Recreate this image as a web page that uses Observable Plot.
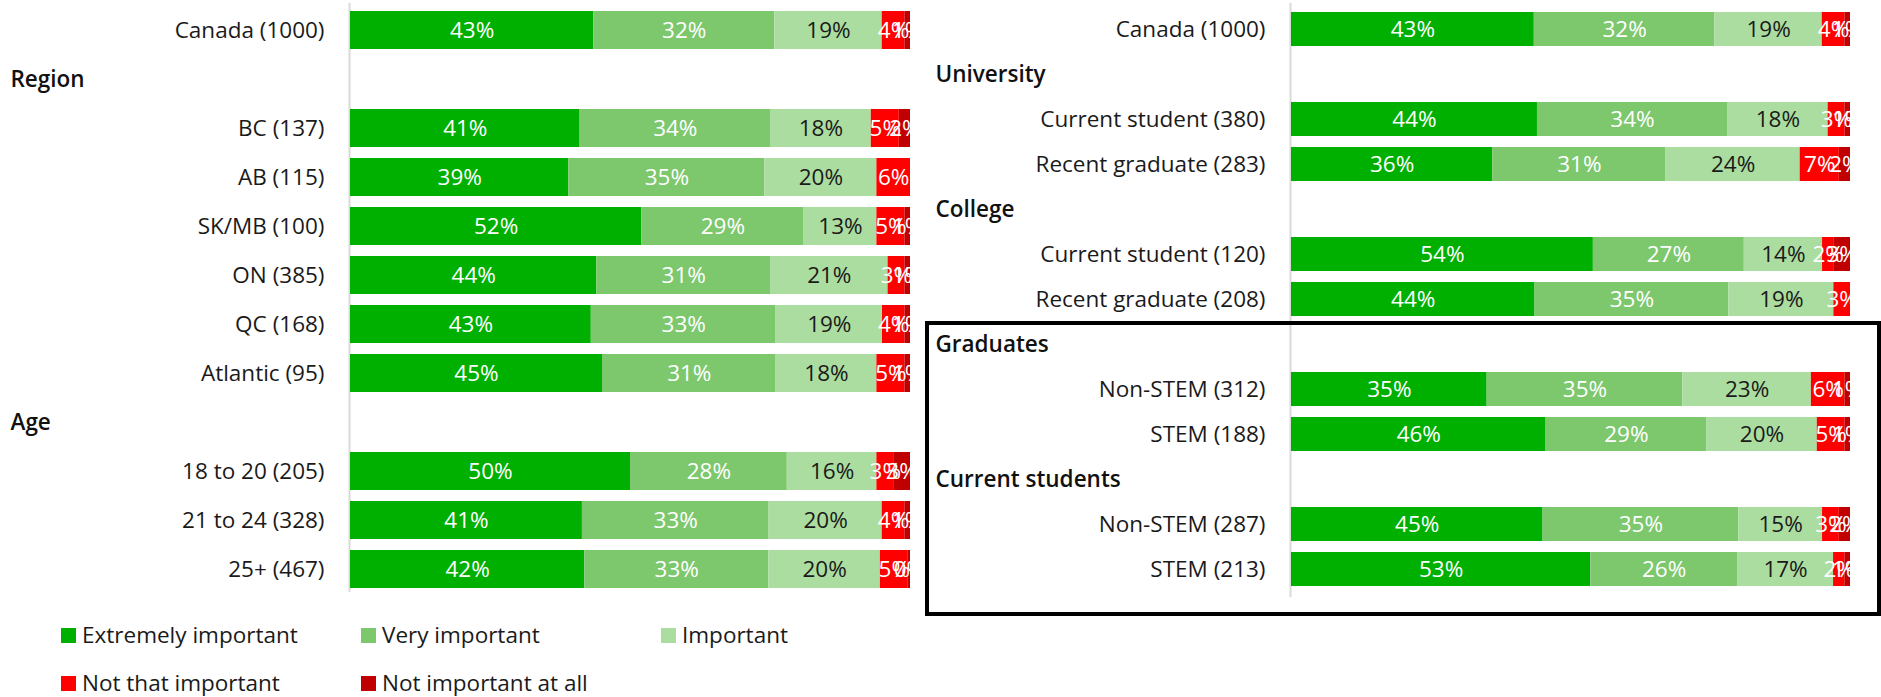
<!DOCTYPE html>
<html>
<head>
<meta charset="utf-8">
<script src="https://cdn.jsdelivr.net/npm/d3@7"></script>
<script src="https://cdn.jsdelivr.net/npm/@observablehq/plot@0.6"></script>
<style>
  body { margin: 0; background: #fff; }
  #wrap { position: relative; width: 1881px; height: 697px; overflow: hidden; background: #fff; font-family: 'Open Sans', sans-serif; }
  .panel { position: absolute; top: 0; }
  #box { position: absolute; left: 925px; top: 321px; width: 956px; height: 295px; border: 4px solid #000; box-sizing: border-box; pointer-events: none; }
  #legend { position: absolute; left: 61px; top: 622px; }
  .lg-swatches { font-family: 'Open Sans', sans-serif !important; font-size: 22.5px !important; color: #1a1a1a; width: 930px; margin: 0 !important; min-height: 0 !important; }
  .lg-swatch { width: 300px; height: 26px; margin: 0 0 22px 0 !important; white-space: nowrap; line-height: 26px; }
  .lg-swatch > svg { margin-right: 6px !important; }
</style>
</head>
<body>
<div id="wrap"></div>
<script>
// ---- Data ----
const levels = ["Extremely important", "Very important", "Important", "Not that important", "Not important at all"];
const levelColors = ["#00b000", "#7dc76d", "#acdda0", "#ff0000", "#c00000"];

const leftCategories = ["Canada (1000)", "BC (137)", "AB (115)", "SK/MB (100)", "ON (385)", "QC (168)", "Atlantic (95)", "18 to 20 (205)", "21 to 24 (328)", "25+ (467)"];
const leftExtreme  = [43, 41, 39, 52, 44, 43, 45, 50, 41, 42];
const leftVery     = [32, 34, 35, 29, 31, 33, 31, 28, 33, 33];
const leftImportant= [19, 18, 20, 13, 21, 19, 18, 16, 20, 20];
const leftNotThat  = [4, 5, 6, 5, 3, 4, 5, 3, 4, 5];
const leftNotAtAll = [1, 2, 0, 1, 1, 1, 1, 3, 1, 0.4];
const leftHeaders = ["Region", "Age"];
const leftHeaderBefore = ["BC (137)", "18 to 20 (205)"];

const rightCategories = ["Canada (1000)", "Current student (380)", "Recent graduate (283)", "Current student (120)", "Recent graduate (208)", "Non-STEM (312)", "STEM (188)", "Non-STEM (287)", "STEM (213)"];
const rightExtreme  = [43, 44, 36, 54, 44, 35, 46, 45, 53];
const rightVery     = [32, 34, 31, 27, 35, 35, 29, 35, 26];
const rightImportant= [19, 18, 24, 14, 19, 23, 20, 15, 17];
const rightNotThat  = [4, 3, 7, 2, 3, 6, 5, 3, 2];
const rightNotAtAll = [1, 1, 2, 3, 0, 1, 1, 2, 1];
const rightHeaders = ["University", "College", "Graduates", "Current students"];
const rightHeaderBefore = ["Current student (380)", "Current student (120)", "Non-STEM (312)", "Non-STEM (287)"];

// ---- Build ----
function panel(cats, series, headers, headerBefore, cfg) {
  const rows = [];
  cats.forEach(c => {
    const hi = headerBefore.indexOf(c);
    if (hi >= 0) rows.push(headers[hi]);
    rows.push(c);
  });
  const data = [];
  cats.forEach((c, i) => levels.forEach((l, j) => data.push({row: c, level: l, value: series[j][i]})));
  const fmt = d => Math.round(d.value) + "%";
  return Plot.plot({
    width: cfg.width, height: 600,
    marginLeft: cfg.marginLeft, marginRight: cfg.marginRight, marginTop: 8, marginBottom: 9,
    style: "font-family: 'Open Sans', sans-serif; font-size: 22.5px; color: #1a1a1a; background: transparent; overflow: visible;",
    x: {domain: [0, 1], axis: null},
    y: {domain: rows, paddingInner: cfg.pad, paddingOuter: 0, label: null},
    color: {domain: levels, range: levelColors},
    marks: [
      Plot.ruleX([0], {stroke: "#d9d9d9", strokeWidth: 2, dx: -1, insetTop: -5, insetBottom: cfg.ruleBottom}),
      Plot.barX(data, Plot.stackX({x: "value", y: "row", fill: "level", offset: "normalize"})),
      Plot.text(data, Plot.stackX({x: "value", y: "row", z: "level", offset: "normalize",
        text: d => (d.level === "Important" || d.value <= 0) ? null : fmt(d), fill: "white"})),
      Plot.text(data, Plot.stackX({x: "value", y: "row", z: "level", offset: "normalize",
        text: d => (d.level === "Important" && d.value > 0) ? fmt(d) : null, fill: "#1a1a1a"})),
      Plot.axisY({tickSize: 0, tickPadding: 26, label: null, fill: "#1a1a1a",
        tickFormat: d => headers.includes(d) ? "" : d}),
      Plot.text(headers, {y: d => d, text: d => d, frameAnchor: "left", textAnchor: "start",
        dx: cfg.headerDx, fill: "#111", fontWeight: 600})
    ]
  });
}

const wrap = document.getElementById("wrap");

const left = panel(leftCategories, [leftExtreme, leftVery, leftImportant, leftNotThat, leftNotAtAll],
  leftHeaders, leftHeaderBefore, {width: 925, marginLeft: 350, marginRight: 15, pad: 0.232, headerDx: -340, ruleBottom: -1});
const ld = document.createElement("div"); ld.className = "panel"; ld.style.left = "0px"; ld.appendChild(left); wrap.appendChild(ld);

const right = panel(rightCategories, [rightExtreme, rightVery, rightImportant, rightNotThat, rightNotAtAll],
  rightHeaders, rightHeaderBefore, {width: 961, marginLeft: 371, marginRight: 31, pad: 0.2336, headerDx: -356, ruleBottom: -6});
const rd = document.createElement("div"); rd.className = "panel"; rd.style.left = "920px"; rd.appendChild(right); wrap.appendChild(rd);

const box = document.createElement("div"); box.id = "box"; wrap.appendChild(box);

const lgd = document.createElement("div"); lgd.id = "legend";
lgd.appendChild(Plot.legend({color: {domain: levels, range: levelColors}, legend: "swatches", swatchSize: 15, className: "lg"}));
wrap.appendChild(lgd);
</script>
</body>
</html>
